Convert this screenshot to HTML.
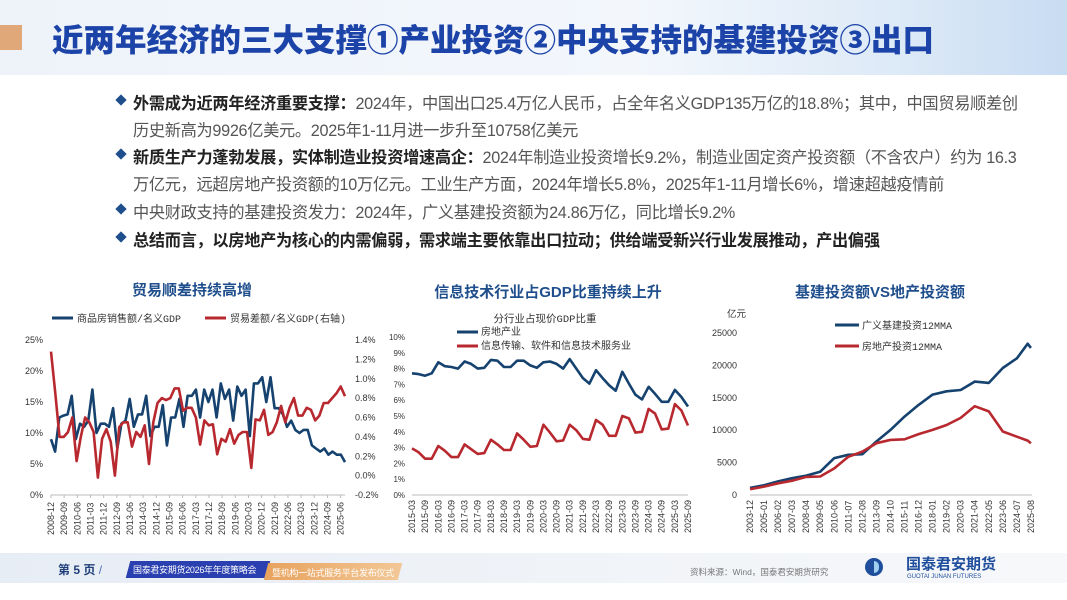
<!DOCTYPE html>
<html><head><meta charset="utf-8">
<style>
*{margin:0;padding:0;box-sizing:border-box}
body{width:1067px;height:600px;overflow:hidden;background:#fff;font-family:"Liberation Sans","Noto Sans CJK SC",sans-serif;position:relative}
.abs{position:absolute}
.hdr{left:0;top:0;width:1067px;height:75px;background:linear-gradient(90deg,#eef3fa 0%,#f3f7fc 60%,#dce9f7 85%,#c8dcf2 100%)}
.title{left:52px;top:17px;font-size:31.5px;line-height:42px;font-weight:900;color:#1c43a8;white-space:nowrap;letter-spacing:0px;font-family:"Noto Sans CJK SC",sans-serif}
.bul{left:133px;font-size:16.2px;color:#555;white-space:nowrap;font-family:"Liberation Sans Narrow","Liberation Sans","Noto Sans CJK SC",sans-serif;letter-spacing:-0.3px}
.bul b{color:#222}
.dia{position:absolute;left:-16px;top:6px;width:8px;height:8px;background:#1f4e8c;transform:rotate(45deg)}
.ct{font-size:15px;font-weight:bold;color:#1f4e8c;white-space:nowrap;transform:translateX(-50%)}
.foot{left:0;top:553px;width:1067px;height:30px;background:linear-gradient(90deg,#e7edf5,#f1f4f8 60%,#f7f8fa)}
svg text{font-family:"Liberation Sans","Noto Sans CJK SC",sans-serif}
svg text.lg{font-family:"Liberation Mono","Noto Sans CJK SC",monospace}
</style></head><body>
<div class="abs hdr"></div>
<div class="abs" style="left:0;top:25px;width:22px;height:25px;background:#e0a878"></div>
<div class="abs title">近两年经济的三大支撑①产业投资②中央支持的基建投资③出口</div>

<div class="abs bul" style="top:90px"><span class="dia"></span><b>外需成为近两年经济重要支撑：</b>2024年，中国出口25.4万亿人民币，占全年名义GDP135万亿的18.8%；其中，中国贸易顺差创</div>
<div class="abs bul" style="top:117px">历史新高为9926亿美元。2025年1-11月进一步升至10758亿美元</div>
<div class="abs bul" style="top:144px"><span class="dia"></span><b>新质生产力蓬勃发展，实体制造业投资增速高企：</b>2024年制造业投资增长9.2%，制造业固定资产投资额（不含农户）约为 16.3</div>
<div class="abs bul" style="top:171px">万亿元，远超房地产投资额的10万亿元。工业生产方面，2024年增长5.8%，2025年1-11月增长6%，增速超越疫情前</div>
<div class="abs bul" style="top:199px"><span class="dia"></span>中央财政支持的基建投资发力：2024年，广义基建投资额为24.86万亿，同比增长9.2%</div>
<div class="abs bul" style="top:227px"><span class="dia"></span><b>总结而言，以房地产为核心的内需偏弱，需求端主要依靠出口拉动；供给端受新兴行业发展推动，产出偏强</b></div>

<div class="abs ct" style="left:192px;top:279px">贸易顺差持续高增</div>
<div class="abs ct" style="left:548px;top:281px">信息技术行业占GDP比重持续上升</div>
<div class="abs ct" style="left:880px;top:281px">基建投资额VS地产投资额</div>

<svg class="abs" style="left:0;top:0" width="1067" height="600" id="charts"></svg>

<div class="abs foot"></div>
<div class="abs" style="left:58px;top:561px;font-size:12px;font-weight:bold;color:#1f3f7a">第 5 页 <span style="font-weight:normal;color:#4a6fb5">/</span></div>
<div class="abs" style="left:128px;top:561px;width:140px;height:17px;background:#2a3fb0;transform:skewX(-15deg)"></div>
<div class="abs" style="left:133px;top:563px;font-size:9px;color:#fff;white-space:nowrap;letter-spacing:-0.3px">国泰君安期货2026年年度策略会</div>
<div class="abs" style="left:266px;top:563px;width:134px;height:17px;background:linear-gradient(90deg,#e8a35e,#f2c796);transform:skewX(-15deg)"></div>
<div class="abs" style="left:272px;top:566px;font-size:9px;color:#fff;white-space:nowrap;letter-spacing:-0.3px">暨机构一站式服务平台发布仪式</div>
<div class="abs" style="left:690px;top:566px;font-size:8.5px;color:#777;white-space:nowrap">资料来源：Wind，国泰君安期货研究</div>
<div class="abs" style="left:865px;top:558px;width:18px;height:18px;border-radius:50%;background:#1f4e9c"><div style="position:absolute;left:9px;top:3px;width:5px;height:12px;border-radius:0 6px 6px 0;background:#9fd0ee"></div></div>
<div class="abs" style="left:906px;top:555px;font-size:15px;line-height:18px;font-weight:bold;color:#1f4e9c;white-space:nowrap;font-family:'Noto Sans CJK SC',sans-serif">国泰君安期货</div>
<div class="abs" style="left:907px;top:574px;font-size:6px;color:#1f4e9c;white-space:nowrap">GUOTAI JUNAN FUTURES</div>

<script>
// ---------- Chart 1 data ----------
const c1Start = [2008, 12];
const c1LabelCount = 23;
const c1Blue = [9,7,12.5,12.8,13,16,9,11.5,11,12,17,10,11.5,11.5,11,14,7.5,11.5,12,15.5,11,13,13,16,9.5,11,11,14.5,8,12.5,12.5,15.5,11,16,16,17,12.5,17,15,17,12.5,18,15.5,17,12,17.5,16,17,9.5,18,18,19,15,19,14,14,13,11,12,10.5,10,10.5,10.5,8,7.5,7,7.5,6.5,7,6.5,6.5,5.3];
const c1Red = [1.28,0.85,0.4,0.4,0.45,0.6,0.15,0.4,0.6,0.55,0.45,-0.02,0.38,0.48,0.35,0.0,0.5,0.55,0.55,0.3,0.45,0.4,0.52,0.12,0.55,0.75,0.8,0.78,0.8,0.9,0.9,0.67,0.7,0.7,0.6,0.32,0.57,0.52,0.53,0.22,0.38,0.35,0.48,0.33,0.42,0.45,0.45,0.08,0.58,0.57,0.68,0.42,0.45,0.55,0.72,0.55,0.7,0.8,0.62,0.62,0.7,0.68,0.57,0.62,0.75,0.75,0.8,0.85,0.92,0.82];
const c1LeftTicks = [0,5,10,15,20,25];
const c1RightTicks = [-0.2,0,0.2,0.4,0.6,0.8,1.0,1.2,1.4];
// ---------- Chart 2 data ----------
const c2Start = [2015, 3];
const c2Blue = [7.7,7.65,7.55,7.7,8.4,8.15,8.1,8.0,8.45,8.3,8.0,8.05,8.55,8.5,8.1,8.1,8.5,8.5,8.2,8.05,8.4,8.45,8.3,8.0,8.6,8.0,7.4,7.05,7.9,7.4,6.95,6.6,7.8,7.05,6.35,6.05,6.85,6.4,5.9,5.9,6.65,6.2,5.6];
const c2Red = [2.95,2.7,2.3,2.3,3.1,2.8,2.4,2.4,3.2,2.9,2.6,2.65,3.5,3.2,2.85,2.85,3.9,3.5,3.05,3.1,4.45,3.95,3.4,3.45,4.45,4.1,3.55,3.5,4.75,4.45,3.75,3.75,5.0,4.85,3.95,4.0,5.45,5.15,4.15,4.2,5.75,5.35,4.4];
const c2Ticks = [0,1,2,3,4,5,6,7,8,9,10];
// ---------- Chart 3 data ----------
const c3Dates = ["2003-12","2005-01","2006-02","2007-03","2008-04","2009-05","2010-06","2011-07","2012-08","2013-09","2014-10","2015-11","2016-12","2018-01","2019-02","2020-03","2021-04","2022-05","2023-06","2024-07","2025-05","2025-08"];
const c3Blue = [1100,1500,2100,2600,3000,3600,5700,6200,6300,8250,10050,12100,13900,15500,16000,16200,17500,17300,19600,21100,23350,22700];
const c3Red = [900,1300,1800,2200,2800,2850,4100,5900,6700,8000,8500,8600,9400,10050,10800,11900,13700,12900,9800,9000,8400,8000];
const c3Ticks = [0,5000,10000,15000,20000,25000];
const c3Labels = ["2003-12","2005-01","2006-02","2007-03","2008-04","2009-05","2010-06","2011-07","2012-08","2013-09","2014-10","2015-11","2016-12","2018-01","2019-02","2020-03","2021-04","2022-05","2023-06","2024-07","2025-08"];

const BLUE="#15426f", RED="#b8292f";
const svg=document.getElementById('charts');
const NS="http://www.w3.org/2000/svg";
function mk(tag,attrs,name){const e=document.createElementNS(NS,tag);for(const k in attrs)e.setAttribute(k,attrs[k]);


svg.appendChild(e);return e;}
function txt(x,y,s,size,anchor,name,rot,cls){const t=mk('text',{x:x,y:y,'font-size':size,fill:'#333','text-anchor':anchor||'start'},name);
if(cls)t.setAttribute('class',cls);
if(rot)t.setAttribute('transform','rotate(-90 '+x+' '+y+')');t.textContent=s;return t;}
function qLabel(start,i){let m=start[1]-1+i*3;const y=start[0]+Math.floor(m/12);m=m%12+1;return y+'-'+String(m).padStart(2,'0');}
function poly(pts,color,name,w){mk('polyline',{points:pts.map(p=>p[0].toFixed(1)+','+p[1].toFixed(1)).join(' '),fill:'none',stroke:color,'stroke-width':w||2.6,'stroke-linejoin':'round'},name);}

// Chart 1
(function(){
 const x0=51,x1=345,yT=340,yB=495;
 const F=f=>x0+(x1-x0)*f;
 const YL=v=>yB-(v-0)/(25-0)*(yB-yT);
 const YR=v=>yB-(v+0.2)/1.6*(yB-yT);
 mk('line',{x1:x0,y1:yB,x2:x1,y2:yB,stroke:'#bbb','stroke-width':1},'chart1-x-axis');
 c1LeftTicks.forEach(v=>txt(43,YL(v)+3,v+'%',9,'end','chart1-left-tick'));
 c1RightTicks.forEach(v=>txt(355,YR(v)+3,(v<0?'-':'')+Math.abs(v).toFixed(1)+'%',9,'start','chart1-right-tick'));
 for(let k=0;k<c1LabelCount;k++){const x=F(k/(c1LabelCount-1)*0.985);
   txt(x+3,yB+40,qLabel(c1Start,k*3),9,'start','chart1-x-tick',true);
   mk('line',{x1:x,y1:yB,x2:x,y2:yB+3,stroke:'#bbb'},'chart1-x-tickmark');}
 poly(c1Blue.map((v,i)=>[F(i/(c1Blue.length-1)),YL(v)]),BLUE,'chart1-series-housing-sales');
 poly(c1Red.map((v,i)=>[F(i/(c1Red.length-1)),YR(v)]),RED,'chart1-series-trade-surplus');
 mk('line',{x1:52,y1:318,x2:73,y2:318,stroke:BLUE,'stroke-width':3},'chart1-legend-swatch-blue');
 txt(77,322,'商品房销售额/名义GDP',10,'start','chart1-legend-blue',false,'lg');
 mk('line',{x1:205,y1:318,x2:226,y2:318,stroke:RED,'stroke-width':3},'chart1-legend-swatch-red');
 txt(230,322,'贸易差额/名义GDP(右轴)',10,'start','chart1-legend-red',false,'lg');
})();

// Chart 2
(function(){
 const x0=412,x1=688,yT=337,yB=495,n=c2Blue.length;
 const X=i=>x0+(x1-x0)*i/(n-1);
 const Y=v=>yB-v/10*(yB-yT);
 mk('line',{x1:x0,y1:yB,x2:x1,y2:yB,stroke:'#bbb','stroke-width':1},'chart2-x-axis');
 c2Ticks.forEach(v=>txt(405,Y(v)+3,v+'%',8,'end','chart2-y-tick'));
 for(let i=0;i<n;i+=2){txt(X(i)+3,yB+38,qLabel(c2Start,i),9,'start','chart2-x-tick',true);}
 poly(c2Blue.map((v,i)=>[X(i),Y(v)]),BLUE,'chart2-series-real-estate');
 poly(c2Red.map((v,i)=>[X(i),Y(v)]),RED,'chart2-series-it-services');
 txt(545,322,'分行业占现价GDP比重',10.5,'middle','chart2-legend-title',false,'lg');
 mk('line',{x1:457,y1:332,x2:478,y2:332,stroke:BLUE,'stroke-width':3},'chart2-legend-swatch-blue');
 txt(481,335,'房地产业',10,'start','chart2-legend-blue',false,'lg');
 mk('line',{x1:457,y1:346,x2:478,y2:346,stroke:RED,'stroke-width':3},'chart2-legend-swatch-red');
 txt(481,349,'信息传输、软件和信息技术服务业',10,'start','chart2-legend-red',false,'lg');
})();

// Chart 3
(function(){
 const x0=750,x1=1032,yT=333,yB=495;
 const mi=s=>{const p=s.split('-');return (+p[0])*12+(+p[1]);};
 const m0=mi(c3Dates[0]),m1=mi("2025-09");
 const X=s=>x0+(x1-x0)*(mi(s)-m0)/(m1-m0);
 const Y=v=>yB-v/25000*(yB-yT);
 mk('line',{x1:x0,y1:yB,x2:x1,y2:yB,stroke:'#bbb','stroke-width':1},'chart3-x-axis');
 c3Ticks.forEach(v=>txt(737,Y(v)+3,String(v),9,'end','chart3-y-tick'));
 txt(727,317,'亿元',9.5,'start','chart3-y-unit',false,'lg');
 c3Labels.forEach(s=>txt(X(s)+3,yB+38,s,9,'start','chart3-x-tick',true));
 poly(c3Dates.map((d,i)=>[X(d),Y(c3Blue[i])]),BLUE,'chart3-series-infrastructure');
 poly(c3Dates.map((d,i)=>[X(d),Y(c3Red[i])]),RED,'chart3-series-real-estate');
 mk('line',{x1:835,y1:325,x2:859,y2:325,stroke:BLUE,'stroke-width':3},'chart3-legend-swatch-blue');
 txt(862,329,'广义基建投资12MMA',10,'start','chart3-legend-blue',false,'lg');
 mk('line',{x1:835,y1:346,x2:859,y2:346,stroke:RED,'stroke-width':3},'chart3-legend-swatch-red');
 txt(862,350,'房地产投资12MMA',10,'start','chart3-legend-red',false,'lg');
})();
</script>
</body></html>
